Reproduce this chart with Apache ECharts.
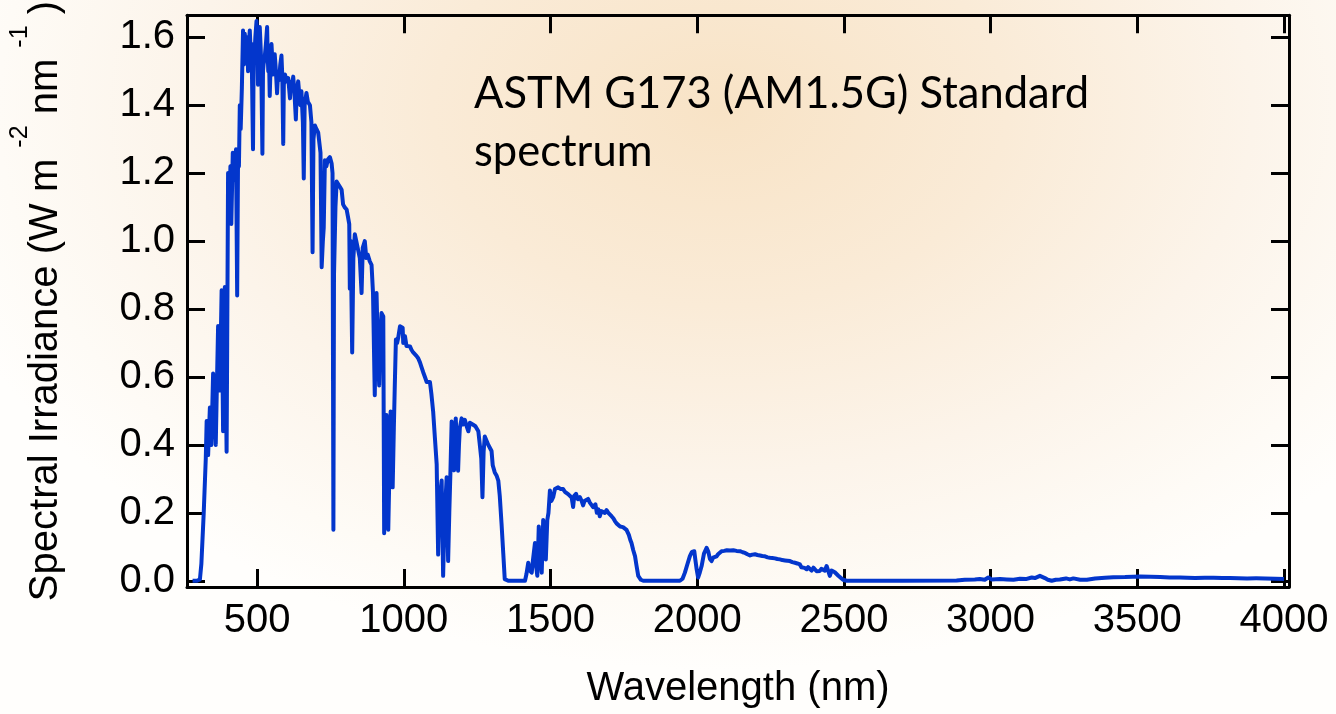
<!DOCTYPE html>
<html>
<head>
<meta charset="utf-8">
<title>ASTM G173 (AM1.5G) Standard spectrum</title>
<script src="https://cdn.jsdelivr.net/npm/echarts@6/dist/echarts.min.js"></script>
<style>
  html, body { margin: 0; padding: 0; }
  body {
    width: 1336px; height: 714px; overflow: hidden;
    background: radial-gradient(ellipse 820px 560px at 720px 110px,
      #F8E3C6 0%, #FAEBD7 35%, #FCF4EA 65%, #FEFBF6 88%, #FFFEFC 100%);
  }
  #chart { width: 1336px; height: 714px; }
</style>
</head>
<body>
<div id="chart"></div>
<script>
// AM1.5G global tilt spectral irradiance (W m^-2 nm^-1) versus wavelength (nm)
const wavelengths = [
  280, 295, 305, 310, 318, 325, 328, 333, 339, 344, 350, 354, 359, 363, 367, 373, 379, 384, 390, 393,
  396, 398, 401, 405, 409, 412, 417, 421, 424, 428, 432, 435, 438, 441, 444, 448, 452, 455, 458, 461,
  464, 467, 469, 472, 475, 478, 481, 486, 488, 491, 494, 498, 501, 503, 506, 509, 512, 514, 518, 520,
  522, 526, 530, 534, 536, 538, 541, 543, 546, 549, 552, 554, 557, 560, 564, 568, 571, 575, 579, 583,
  586, 589, 591, 595, 597, 601, 606, 609, 612, 616, 620, 623, 627, 632, 635, 640, 643, 647, 651, 656,
  659, 662, 668, 673, 680, 685, 689, 692, 697, 702, 708, 712, 716, 720, 724, 727, 731, 736, 741, 748,
  754, 757, 760, 762, 767, 771, 776, 782, 788, 793, 798, 805, 810, 814, 816, 819, 824, 828, 833, 838,
  844, 850, 856, 860, 867, 872, 877, 884, 890, 895, 901, 905, 907, 911, 916, 920, 924, 930, 933, 937,
  941, 944, 947, 950, 955, 958, 962, 966, 969, 973, 977, 981, 987, 992, 996, 998, 1004, 1009, 1015, 1021,
  1026, 1032, 1038, 1043, 1049, 1055, 1060, 1066, 1072, 1078, 1084, 1089, 1094, 1100, 1106, 1112, 1117, 1120, 1123, 1129,
  1134, 1137, 1140, 1146, 1151, 1155, 1159, 1163, 1167, 1171, 1174, 1177, 1181, 1185, 1188, 1191, 1197, 1202, 1208, 1214,
  1220, 1225, 1231, 1235, 1239, 1244, 1248, 1254, 1259, 1264, 1268, 1272, 1276, 1281, 1288, 1294, 1299, 1303, 1310, 1316,
  1322, 1327, 1333, 1339, 1344, 1356, 1413, 1418, 1424, 1430, 1436, 1440, 1447, 1450, 1455, 1460, 1465, 1470, 1475, 1480,
  1484, 1489, 1493, 1498, 1503, 1509, 1515, 1520, 1526, 1535, 1543, 1549, 1555, 1560, 1566, 1572, 1577, 1581, 1587, 1593,
  1600, 1606, 1611, 1616, 1621, 1628, 1634, 1638, 1645, 1653, 1658, 1663, 1668, 1673, 1679, 1685, 1691, 1697, 1702, 1708,
  1714, 1720, 1725, 1731, 1737, 1742, 1747, 1753, 1759, 1767, 1772, 1776, 1782, 1788, 1793, 1799, 1808, 1816, 1941, 1950,
  1958, 1967, 1975, 1982, 1990, 1994, 1998, 2003, 2009, 2015, 2023, 2032, 2038, 2043, 2049, 2054, 2060, 2066, 2071, 2077,
  2083, 2092, 2101, 2112, 2123, 2134, 2146, 2155, 2163, 2171, 2180, 2188, 2197, 2205, 2214, 2222, 2231, 2240, 2248, 2256,
  2265, 2273, 2282, 2290, 2299, 2307, 2316, 2324, 2333, 2341, 2350, 2355, 2360, 2366, 2373, 2378, 2384, 2390, 2396, 2401,
  2407, 2412, 2418, 2423, 2429, 2435, 2441, 2447, 2452, 2458, 2464, 2469, 2475, 2481, 2487, 2497, 2509, 2700, 2884, 2912,
  2946, 2963, 2980, 2992, 3004, 3032, 3055, 3078, 3100, 3120, 3140, 3151, 3168, 3185, 3195, 3208, 3222, 3236, 3257, 3270,
  3282, 3305, 3328, 3356, 3390, 3418, 3458, 3485, 3510, 3545, 3578, 3610, 3646, 3670, 3697, 3730, 3760, 3790, 3816, 3845,
  3874, 3905, 3936, 3970, 4000
];

const irradiance = [
  0, 0, 0.004, 0.05, 0.2, 0.36, 0.47, 0.37, 0.51, 0.40, 0.61, 0.52, 0.40, 0.58, 0.75, 0.56, 0.855, 0.44, 0.865, 0.6,
  0.38, 0.7, 1.20, 1.08, 1.22, 1.05, 1.26, 1.18, 1.22, 1.27, 0.84, 1.25, 1.22, 1.40, 1.33, 1.45, 1.62, 1.52, 1.61, 1.56,
  1.55, 1.60, 1.50, 1.58, 1.62, 1.56, 1.58, 1.27, 1.52, 1.55, 1.60, 1.648, 1.55, 1.46, 1.58, 1.63, 1.57, 1.52, 1.257, 1.50,
  1.52, 1.543, 1.58, 1.63, 1.55, 1.50, 1.52, 1.427, 1.52, 1.58, 1.53, 1.49, 1.53, 1.55, 1.50, 1.435, 1.49, 1.474, 1.52, 1.546,
  1.48, 1.286, 1.46, 1.49, 1.494, 1.47, 1.48, 1.45, 1.42, 1.47, 1.46, 1.484, 1.44, 1.358, 1.44, 1.47, 1.44, 1.40, 1.441, 1.35,
  1.184, 1.40, 1.436, 1.41, 1.40, 1.35, 0.967, 1.30, 1.34, 1.33, 1.32, 1.29, 1.26, 0.923, 1.0, 1.039, 1.238, 1.22, 1.24, 1.247,
  1.228, 1.20, 0.15, 0.9, 1.10, 1.175, 1.18, 1.16, 1.151, 1.108, 1.10, 1.093, 1.07, 1.05, 0.86, 1.0, 0.672, 0.95, 1.02, 1.0,
  1.0, 0.95, 0.847, 0.98, 1.0, 0.95, 0.96, 0.94, 0.93, 0.847, 0.546, 0.80, 0.847, 0.70, 0.575, 0.72, 0.788, 0.778, 0.14, 0.30,
  0.488, 0.30, 0.15, 0.145, 0.498, 0.42, 0.275, 0.45, 0.566, 0.71, 0.70, 0.716, 0.749, 0.754, 0.745, 0.70, 0.72, 0.691, 0.695, 0.69,
  0.68, 0.672, 0.668, 0.662, 0.655, 0.643, 0.63, 0.614, 0.60, 0.585, 0.59, 0.585, 0.55, 0.498, 0.42, 0.343, 0.077, 0.2, 0.25, 0.295,
  0.0145, 0.12, 0.2, 0.305, 0.058, 0.2, 0.325, 0.469, 0.36, 0.325, 0.42, 0.478, 0.40, 0.324, 0.40, 0.45, 0.478, 0.46, 0.474, 0.455,
  0.44, 0.465, 0.47, 0.46, 0.465, 0.455, 0.454, 0.44, 0.40, 0.36, 0.246, 0.38, 0.425, 0.42, 0.40, 0.39, 0.382, 0.34, 0.319, 0.31,
  0.295, 0.25, 0.169, 0.08, 0.005, 0, 0, 0.02, 0.053, 0.03, 0.024, 0.06, 0.111, 0.05, 0.0145, 0.16, 0.08, 0.024, 0.179, 0.12,
  0.063, 0.179, 0.2, 0.266, 0.235, 0.246, 0.27, 0.265, 0.275, 0.27, 0.27, 0.262, 0.26, 0.255, 0.26, 0.245, 0.217, 0.25, 0.256, 0.24,
  0.246, 0.235, 0.222, 0.235, 0.24, 0.241, 0.23, 0.228, 0.217, 0.225, 0.2, 0.21, 0.19, 0.205, 0.21, 0.2, 0.208, 0.2, 0.195, 0.19,
  0.184, 0.175, 0.169, 0.165, 0.16, 0.158, 0.158, 0.153, 0.15, 0.135, 0.12, 0.111, 0.09, 0.0725, 0.045, 0.0145, 0.003, 0, 0, 0.006,
  0.024, 0.05, 0.0725, 0.085, 0.087, 0.06, 0.034, 0.0096, 0.025, 0.0435, 0.08, 0.097, 0.085, 0.065, 0.058, 0.068, 0.063, 0.072, 0.078, 0.083,
  0.087, 0.088, 0.09, 0.089, 0.09, 0.088, 0.087, 0.084, 0.082, 0.078, 0.0745, 0.077, 0.078, 0.076, 0.0745, 0.073, 0.072, 0.069, 0.0676, 0.067,
  0.066, 0.064, 0.063, 0.061, 0.06, 0.059, 0.058, 0.055, 0.053, 0.051, 0.048, 0.04, 0.043, 0.038, 0.034, 0.04, 0.042, 0.03, 0.0386, 0.035,
  0.028, 0.033, 0.029, 0.035, 0.038, 0.03, 0.0435, 0.028, 0.0145, 0.03, 0.034, 0.025, 0.02, 0.015, 0.0096, 0.003, 0, 0, 0.0005, 0.003,
  0.004, 0.005, 0.003, 0.0096, 0.004, 0.005, 0.004, 0.003, 0.006, 0.005, 0.0096, 0.008, 0.0145, 0.008, 0.003, 0, 0.003, 0.004, 0.007, 0.004,
  0.007, 0.003, 0.003, 0.007, 0.009, 0.0106, 0.011, 0.012, 0.0125, 0.012, 0.011, 0.01, 0.0096, 0.009, 0.008, 0.009, 0.0087, 0.008, 0.008, 0.0075,
  0.007, 0.0072, 0.007, 0.006, 0.005
];

// Tick positions
const xTicks = [500, 1000, 1500, 2000, 2500, 3000, 3500, 4000];
const yTicks = [0, 0.2, 0.4, 0.6, 0.8, 1.0, 1.2, 1.4, 1.6];

const xRange = [261, 4017];
const yRange = [-0.0183, 1.665];

const spectrum = wavelengths.map((w, i) => [w, irradiance[i]]);

const FONT = '"Liberation Sans", Arial, sans-serif';
const frameLine = { show: true, onZero: false, lineStyle: { color: '#000', width: 3 } };
const tickStyle = { show: true, inside: true, length: 18, lineStyle: { color: '#000', width: 3 } };

const chart = echarts.init(document.getElementById('chart'), null, { renderer: 'canvas' });

chart.setOption({
  backgroundColor: 'transparent',
  animation: false,
  grid: { left: 187, right: 47, top: 11, bottom: 123, containLabel: false },
  xAxis: [
    {
      type: 'value', position: 'bottom', min: xRange[0], max: xRange[1],
      axisLine: frameLine,
      axisTick: Object.assign({ customValues: xTicks }, tickStyle),
      axisLabel: {
        customValues: xTicks, fontSize: 40, fontFamily: FONT, color: '#000', margin: 14,
        formatter: v => String(v)
      },
      splitLine: { show: false },
      name: 'Wavelength (nm)', nameLocation: 'middle', nameGap: 82,
      nameTextStyle: { fontSize: 40, fontFamily: FONT, color: '#000' }
    },
    {
      type: 'value', position: 'top', min: xRange[0], max: xRange[1],
      axisLine: frameLine,
      axisTick: Object.assign({ customValues: xTicks }, tickStyle),
      axisLabel: { show: false },
      splitLine: { show: false }
    }
  ],
  yAxis: [
    {
      type: 'value', position: 'left', min: yRange[0], max: yRange[1],
      axisLine: frameLine,
      axisTick: Object.assign({ customValues: yTicks }, tickStyle),
      axisLabel: {
        customValues: yTicks, fontSize: 40, fontFamily: FONT, color: '#000', margin: 12,
        formatter: v => v.toFixed(1)
      },
      splitLine: { show: false },
      name: '{a|Spectral Irradiance (W m }{s|-2}{a| nm }{s|-1}{a| )}',
      nameLocation: 'middle', nameRotate: 90, nameGap: 121,
      nameTextStyle: {
        rich: {
          a: { fontSize: 40, fontFamily: FONT, color: '#000', lineHeight: 58, verticalAlign: 'bottom', height: 40 },
          s: { fontSize: 25, fontFamily: FONT, color: '#000', lineHeight: 25, verticalAlign: 'top' }
        }
      }
    },
    {
      type: 'value', position: 'right', min: yRange[0], max: yRange[1],
      axisLine: frameLine,
      axisTick: Object.assign({ customValues: yTicks }, tickStyle),
      axisLabel: { show: false },
      splitLine: { show: false }
    }
  ],
  graphic: [
    {
      type: 'text', left: 474, top: 65, z: 10,
      style: {
        text: 'ASTM G173 (AM1.5G) Standard\nspectrum',
        font: '43.5px Lato, "Open Sans", sans-serif',
        fill: '#000', lineHeight: 58
      }
    }
  ],
  series: [
    {
      type: 'line', xAxisIndex: 0, yAxisIndex: 0,
      data: spectrum, showSymbol: false, symbol: 'none', clip: true,
      lineStyle: { color: '#0336CC', width: 4, join: 'round' }
    }
  ]
});
</script>
</body>
</html>
